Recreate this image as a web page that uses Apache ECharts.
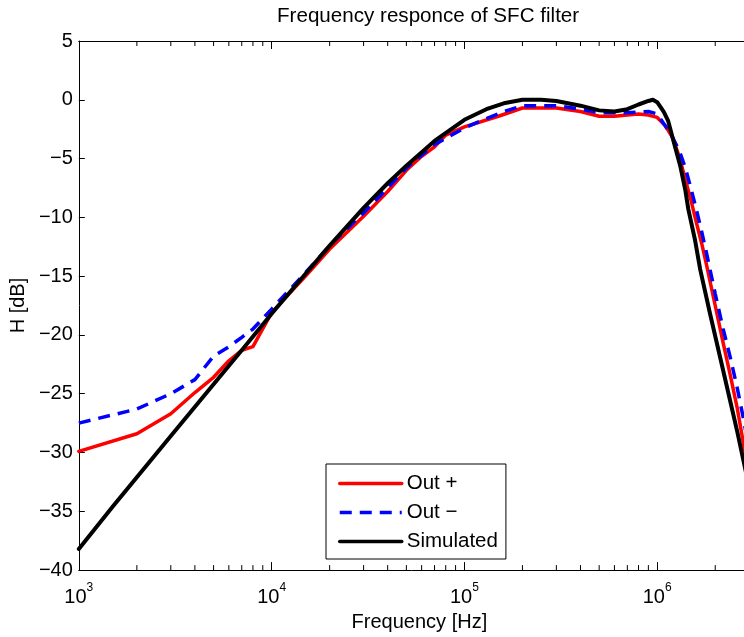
<!DOCTYPE html>
<html>
<head>
<meta charset="utf-8">
<script src="https://cdn.jsdelivr.net/npm/echarts@6/dist/echarts.min.js"></script>
<style>
html,body{margin:0;padding:0;background:#fff;}
#chart{width:744px;height:637px;}
</style>
</head>
<body>
<div id="chart"></div>
<script>
// ---- Data (frequency in Hz, response in dB) ----
const outPlusFreq = [1000, 2000, 3000, 4000, 5000, 6000, 7000, 8000, 10000, 15000, 20000, 30000, 40000, 50000, 60000, 70000, 80000, 100000, 150000, 200000, 300000, 400000, 500000, 600000, 700000, 800000, 900000, 1000000, 1100000, 1200000, 1300000, 1400000, 1500000, 1600000, 1700000, 1800000, 2000000, 2200000, 2400000, 2600000, 2800000, 3000000];
const outPlusDb   = [-29.9, -28.4, -26.7, -24.9, -23.6, -22.2, -21.3, -21.0, -18.1, -15.0, -12.7, -9.9, -7.8, -6.0, -4.8, -4.0, -3.0, -2.3, -1.4, -0.7, -0.7, -1.0, -1.4, -1.4, -1.3, -1.2, -1.3, -1.5, -2.2, -3.2, -4.8, -6.8, -8.6, -10.5, -12.2, -14.0, -17.5, -20.7, -23.5, -26.2, -29.2, -31.8];

const outMinusFreq = [1000, 2000, 3000, 4000, 5000, 6000, 7000, 8000, 10000, 15000, 20000, 30000, 40000, 50000, 70000, 100000, 130000, 160000, 200000, 300000, 400000, 500000, 700000, 900000, 1000000, 1100000, 1200000, 1300000, 1400000, 1500000, 1600000, 1700000, 1800000, 2000000, 2200000, 2400000, 2600000, 2800000, 3000000];
const outMinusDb   = [-27.5, -26.3, -25.0, -23.8, -21.8, -21.0, -20.2, -19.5, -17.8, -14.7, -12.4, -9.6, -7.5, -5.8, -3.8, -2.4, -1.6, -1.0, -0.5, -0.5, -0.8, -1.1, -1.1, -1.0, -1.2, -2.2, -3.2, -4.3, -5.8, -7.6, -9.4, -11.2, -13.0, -16.5, -19.5, -22.0, -24.5, -27.1, -29.8];

const simFreq = [1000, 1500, 2000, 3000, 5000, 7000, 10000, 15000, 20000, 30000, 40000, 50000, 70000, 100000, 130000, 160000, 200000, 250000, 300000, 400000, 500000, 600000, 700000, 800000, 900000, 950000, 1000000, 1080000, 1140000, 1210000, 1320000, 1400000, 1450000, 1570000, 1670000, 1880000, 2120000, 2390000, 2600000, 2820000, 3000000];
const simDb   = [-38.2, -34.6, -32.1, -28.6, -24.2, -21.3, -18.2, -14.8, -12.4, -9.2, -7.1, -5.6, -3.5, -1.7, -0.8, -0.3, 0.0, 0.0, -0.1, -0.5, -0.9, -1.0, -0.8, -0.4, -0.1, 0.0, -0.2, -1.0, -1.8, -3.4, -5.7, -7.7, -9.3, -11.9, -14.4, -18.2, -21.9, -25.6, -28.2, -30.9, -33.0];

const seriesNames = ['Out +', 'Out \u2212', 'Simulated'];
const yTicks = [5, 0, -5, -10, -15, -20, -25, -30, -35, -40];
const xMajorTicks = [1e3, 1e4, 1e5, 1e6];
const minorMantissas = [2, 3, 4, 5, 6, 7, 8, 9];
const minorDecades = [1e3, 1e4, 1e5, 1e6];

const X_MIN = 1000, X_MAX = 2.82e6, Y_MIN = -40, Y_MAX = 5;

const zip = (a, b) => a.map((v, i) => [v, b[i]]);
const minorTicks = [];
minorDecades.forEach(d => minorMantissas.forEach(m => { if (m * d < X_MAX) minorTicks.push([m * d, Y_MIN]); }));

const FONT = 'Liberation Sans, Arial, Helvetica, sans-serif';

const chart = echarts.init(document.getElementById('chart'), null, {renderer: 'canvas'});

const xAxisCommon = {
  type: 'log', logBase: 10, min: X_MIN, max: X_MAX,
  axisLine: {show: true, onZero: false, lineStyle: {color: '#000', width: 1}},
  axisTick: {show: true, inside: true, length: 8, lineStyle: {color: '#000', width: 1}},
  minorTick: {show: false},
  splitLine: {show: false},
  minorSplitLine: {show: false}
};

chart.setOption({
  animation: false,
  backgroundColor: '#fff',
  title: {
    text: 'Frequency responce of SFC filter',
    left: 277, top: 6, padding: 0,
    textStyle: {fontFamily: FONT, fontSize: 20.6, fontWeight: 'normal', color: '#000'}
  },
  grid: {left: 78, right: 0, top: 41, height: 530, containLabel: false},
  legend: {
    data: seriesNames,
    orient: 'vertical',
    left: 326, top: 464,
    padding: [9, 8, 7, 12],
    itemGap: 8,
    itemWidth: 62, itemHeight: 14,
    backgroundColor: '#fff',
    borderColor: '#000', borderWidth: 1, borderRadius: 0,
    itemStyle: {opacity: 0, borderWidth: 0},
    lineStyle: {width: 3.5},
    textStyle: {fontFamily: FONT, fontSize: 20.5, color: '#000'}
  },
  xAxis: [
    Object.assign({}, xAxisCommon, {
      position: 'bottom',
      name: 'Frequency [Hz]', nameLocation: 'middle', nameGap: 40,
      nameTextStyle: {fontFamily: FONT, fontSize: 20, color: '#000', padding: [0, 0, 0, 16]},
      axisLabel: {
        show: true, margin: 12, color: '#000', fontFamily: FONT,
        showMaxLabel: false,
        formatter: v => '{b|10}{s|' + Math.round(Math.log10(v)) + '}',
        rich: {
          b: {fontFamily: FONT, fontSize: 20, lineHeight: 30, color: '#000'},
          s: {fontFamily: FONT, fontSize: 12, lineHeight: 12, verticalAlign: 'top', color: '#000'}
        }
      }
    }),
    Object.assign({}, xAxisCommon, {position: 'top', axisLabel: {show: false}})
  ],
  yAxis: {
    type: 'value', min: Y_MIN, max: Y_MAX, interval: 5,
    name: 'H [dB]', nameLocation: 'middle', nameGap: 46,
    nameTextStyle: {fontFamily: FONT, fontSize: 20, color: '#000'},
    axisLine: {show: true, onZero: false, lineStyle: {color: '#000', width: 1}},
    axisTick: {show: true, inside: true, length: 6, lineStyle: {color: '#000', width: 1}},
    splitLine: {show: false},
    axisLabel: {
      margin: 6, color: '#000', fontFamily: FONT, fontSize: 20,
      formatter: v => (v < 0 ? '\u2212' + (-v) : String(v))
    }
  },
  series: [
    {
      name: seriesNames[0], type: 'line', data: zip(outPlusFreq, outPlusDb),
      symbol: 'none', smooth: false, clip: true,
      lineStyle: {color: '#ff0000', width: 3.5, join: 'round', cap: 'round'},
      itemStyle: {color: '#ff0000'}
    },
    {
      name: seriesNames[1], type: 'line', data: zip(outMinusFreq, outMinusDb),
      symbol: 'none', smooth: false, clip: true,
      lineStyle: {color: '#0000ff', width: 3.5, type: [12, 8]},
      itemStyle: {color: '#0000ff'}
    },
    {
      name: seriesNames[2], type: 'line', data: zip(simFreq, simDb),
      symbol: 'none', smooth: false, clip: true,
      lineStyle: {color: '#000000', width: 4, join: 'round', cap: 'round'},
      itemStyle: {color: '#000000'}
    },
    {
      name: 'minorTicks', type: 'custom', data: minorTicks, silent: true, z: 1, clip: false,
      renderItem: (params, api) => {
        const f = api.value(0);
        const pb = api.coord([f, Y_MIN]);
        const pt = api.coord([f, Y_MAX]);
        return {
          type: 'group',
          children: [
            {type: 'line', shape: {x1: pb[0], y1: pb[1], x2: pb[0], y2: pb[1] - 5}, style: {stroke: '#000', lineWidth: 1}},
            {type: 'line', shape: {x1: pt[0], y1: pt[1], x2: pt[0], y2: pt[1] + 5}, style: {stroke: '#000', lineWidth: 1}}
          ]
        };
      }
    }
  ]
});
</script>
</body>
</html>
